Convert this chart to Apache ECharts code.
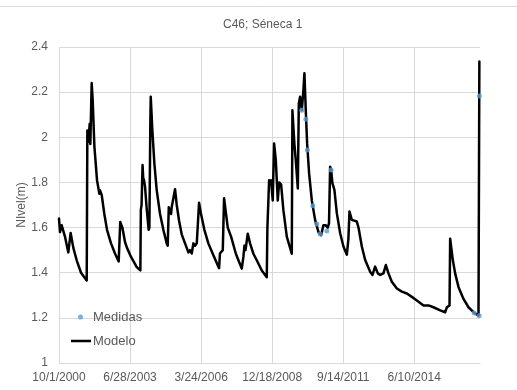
<!DOCTYPE html>
<html>
<head>
<meta charset="utf-8">
<script src="https://cdn.jsdelivr.net/npm/echarts@6/dist/echarts.min.js"></script>
<style>
html,body{margin:0;padding:0;background:#fff;}
#chart{width:517px;height:390px;}
</style>
</head>
<body>
<div id="chart"></div>
<script>
// Days since 10/1/2000
const xTickLabels = ['10/1/2000', '6/28/2003', '3/24/2006', '12/18/2008', '9/14/2011', '6/10/2014'];

const modelDays = [
  0, 14, 38, 84, 131, 164, 202, 249, 310, 390, 399, 413, 432, 441, 460, 474, 498, 535, 568, 577,
  601, 638, 676, 732, 788, 840, 862, 892, 929, 957, 1014, 1094, 1145, 1152, 1162, 1176, 1185, 1197, 1211, 1235,
  1262, 1272, 1285, 1291, 1314, 1342, 1375, 1422, 1469, 1516, 1530, 1545, 1560, 1577, 1586, 1633, 1657, 1690, 1727, 1774,
  1821, 1844, 1868, 1891, 1915, 1939, 1955, 1971, 1999, 2046, 2102, 2173, 2234, 2253, 2265, 2305, 2323, 2375, 2422, 2488,
  2525, 2572, 2595, 2610, 2625, 2656, 2689, 2736, 2783, 2854, 2924, 2933, 2957, 2975, 2985, 3004, 3008, 3027, 3051, 3079,
  3098, 3126, 3158, 3206, 3276, 3285, 3313, 3332, 3361, 3375, 3393, 3417, 3440, 3454, 3473, 3492, 3520, 3558, 3605, 3652,
  3689, 3721, 3755, 3783, 3800, 3816, 3830, 3848, 3876, 3910, 3957, 4003, 4051, 4073, 4088, 4121, 4144, 4191, 4215, 4262,
  4309, 4379, 4412, 4449, 4487, 4520, 4566, 4600, 4637, 4684, 4755, 4825, 4896, 4966, 5036, 5130, 5200, 5270, 5365, 5435,
  5459, 5496, 5505, 5519, 5543, 5576, 5623, 5693, 5763, 5834, 5904, 5912, 5916
];
const modelLevels = [
  1.64, 1.58, 1.61, 1.56, 1.49, 1.576, 1.51, 1.455, 1.40, 1.366, 2.03, 1.98, 2.06, 1.97, 2.24, 2.166, 1.96, 1.81, 1.75, 1.765,
  1.745, 1.66, 1.59, 1.53, 1.485, 1.45, 1.625, 1.60, 1.536, 1.51, 1.47, 1.425, 1.41, 1.68, 1.70, 1.877, 1.82, 1.81, 1.78, 1.68,
  1.59, 1.60, 2.05, 2.18, 2.03, 1.885, 1.766, 1.66, 1.59, 1.53, 1.52, 1.69, 1.67, 1.66, 1.69, 1.77, 1.70, 1.63, 1.57, 1.53,
  1.49, 1.50, 1.485, 1.53, 1.52, 1.53, 1.53, 1.71, 1.66, 1.59, 1.53, 1.477, 1.433, 1.42, 1.485, 1.50, 1.73, 1.60, 1.56, 1.485,
  1.455, 1.418, 1.47, 1.52, 1.50, 1.573, 1.53, 1.484, 1.455, 1.41, 1.38, 1.60, 1.81, 1.795, 1.81, 1.736, 1.72, 1.973, 1.90, 1.72,
  1.80, 1.79, 1.677, 1.56, 1.484, 2.12, 1.97, 1.90, 1.773, 2.15, 2.18, 2.12, 2.21, 2.284, 2.12, 1.973, 1.84, 1.72, 1.633, 1.58,
  1.566, 1.61, 1.61, 1.60, 1.62, 1.87, 1.856, 1.797, 1.767, 1.664, 1.575, 1.516, 1.48, 1.55, 1.671, 1.634, 1.64, 1.627, 1.60, 1.516,
  1.456, 1.404, 1.39, 1.427, 1.397, 1.39, 1.397, 1.434, 1.397, 1.36, 1.33, 1.316, 1.308, 1.293, 1.277, 1.255, 1.255, 1.247, 1.233, 1.225,
  1.247, 1.255, 1.551, 1.544, 1.455, 1.396, 1.336, 1.284, 1.247, 1.225, 1.21, 1.208, 2.336
];

const measuredDays = [3417, 3474, 3496, 3572, 3628, 3675, 3769, 3830, 5843, 5914, 5915];
const measuredLevels = [2.12, 2.08, 1.944, 1.697, 1.616, 1.571, 1.585, 1.855, 1.221, 1.209, 2.183];

const gray = '#595959';
const gridColor = '#d9d9d9';
const font = 'Liberation Sans';

const chart = echarts.init(document.getElementById('chart'), null, {renderer: 'canvas'});
chart.setOption({
  animation: false,
  backgroundColor: '#fff',
  title: {
    text: 'C46; Séneca 1',
    left: 223,
    top: 19,
    padding: 0,
    textStyle: {color: gray, fontSize: 12, fontWeight: 'normal', fontFamily: font}
  },
  graphic: [{
    type: 'line',
    shape: {x1: 0, y1: 6.5, x2: 517, y2: 6.5},
    style: {stroke: gridColor, lineWidth: 1}
  }],
  legend: [
    {
      orient: 'vertical',
      left: 78,
      top: 310.5,
      padding: 0,
      itemWidth: 5,
      itemHeight: 5,
      textStyle: {color: gray, fontSize: 13, fontFamily: font, padding: [0, 0, 0, 5]},
      data: [{name: 'Medidas', icon: 'circle'}]
    },
    {
      orient: 'vertical',
      left: 71,
      top: 334.5,
      padding: 0,
      itemWidth: 20,
      itemHeight: 2.5,
      textStyle: {color: gray, fontSize: 13, fontFamily: font, padding: [0, 0, 0, -3]},
      data: [{name: 'Modelo', icon: 'rect'}]
    }
  ],
  grid: {left: 59, right: 37, top: 47, bottom: 27, containLabel: false, outerBoundsMode: 'none'},
  xAxis: {
    type: 'value',
    min: 0,
    max: 5925,
    interval: 1000,
    axisLine: {show: true, lineStyle: {color: gridColor, width: 1}},
    axisTick: {show: false},
    splitLine: {show: true, showMaxLine: false, lineStyle: {color: gridColor, width: 1}},
    axisLabel: {
      color: gray, fontSize: 12, fontFamily: font, margin: 9,
      showMaxLabel: false,
      formatter: function (v) {
        const i = Math.round(v / 1000);
        return (Math.abs(v - i * 1000) < 1e-6 && xTickLabels[i]) ? xTickLabels[i] : '';
      }
    }
  },
  yAxis: {
    type: 'value',
    min: 1,
    max: 2.4,
    interval: 0.2,
    name: 'NIvel(m)',
    nameLocation: 'middle',
    nameGap: 31,
    nameMoveOverlap: false,
    nameTextStyle: {color: gray, fontSize: 12, fontFamily: font},
    axisLine: {show: false},
    axisTick: {show: false},
    splitLine: {show: true, lineStyle: {color: gridColor, width: 1}},
    axisLabel: {color: gray, fontSize: 12, fontFamily: font, margin: 11}
  },
  series: [
    {
      name: 'Modelo',
      type: 'line',
      data: modelDays.map((d, i) => [d, modelLevels[i]]),
      symbol: 'none',
      showSymbol: false,
      sampling: null,
      lineStyle: {color: '#000', width: 2.5, join: 'round', cap: 'round'},
      itemStyle: {color: '#000'},
      z: 2
    },
    {
      name: 'Medidas',
      type: 'scatter',
      data: measuredDays.map((d, i) => [d, measuredLevels[i]]),
      symbol: 'circle',
      symbolSize: 5,
      itemStyle: {color: '#5b9bd5'},
      z: 3
    }
  ]
});
</script>
</body>
</html>
